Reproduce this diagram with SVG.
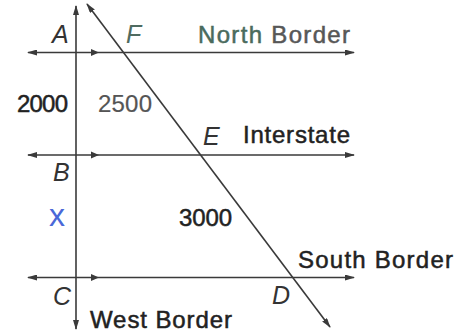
<svg xmlns="http://www.w3.org/2000/svg" width="466" height="335" viewBox="0 0 466 335">
<style>
.ln{stroke:#3a3a3a;stroke-width:1.6;fill:none;}
.ar{marker-end:url(#ah);marker-start:url(#ah);}
.pm{fill:#3a3a3a;}
.pt{font-family:"Liberation Sans",Arial,sans-serif;font-style:italic;font-size:25px;fill:#333;}
.lb{font-family:"Liberation Sans",Arial,sans-serif;font-size:24px;fill:#222;stroke:#222;stroke-width:0.5;}
</style>
<defs>
<marker id="ah" viewBox="0 0 10 6" refX="9" refY="3" markerWidth="10" markerHeight="6" markerUnits="userSpaceOnUse" orient="auto-start-reverse">
<path d="M0,0 L10,3 L0,6 z" fill="#3a3a3a"/>
</marker>
</defs>
<rect width="466" height="335" fill="#fff"/>
<g id="connectors">
<line class="ln ar" x1="28" y1="52.5" x2="354" y2="52.5"/>
<line class="ln ar" x1="28" y1="155" x2="354" y2="155"/>
<line class="ln ar" x1="28" y1="277.5" x2="354" y2="277.5"/>
<line class="ln ar" x1="76" y1="6" x2="76" y2="329"/>
<line class="ln ar" x1="87" y1="4" x2="330" y2="327"/>
<polygon class="pm" points="91,49 99,52.5 91,56"/>
<polygon class="pm" points="91,151.5 99,155 91,158.5"/>
<polygon class="pm" points="91,274 99,277.5 91,281"/>
</g>
<g id="point-A"><text class="pt" x="52" y="43">A</text></g>
<g id="point-F"><text class="pt" x="126" y="43" style="fill:#4f6b60">F</text></g>
<g id="point-E"><text class="pt" x="203" y="145">E</text></g>
<g id="point-B"><text class="pt" x="53" y="181">B</text></g>
<g id="point-C"><text class="pt" x="53" y="305">C</text></g>
<g id="point-D"><text class="pt" x="272" y="304">D</text></g>
<g id="north-border"><text class="lb" x="198" y="43" textLength="152"><tspan fill="#4a6b5d" stroke="#4a6b5d">North</tspan><tspan fill="#575757" stroke="#575757"> Border</tspan></text></g>
<g id="interstate"><text class="lb" x="243" y="143" textLength="107">Interstate</text></g>
<g id="south-border"><text class="lb" x="298" y="268" textLength="155">South Border</text></g>
<g id="west-border"><text class="lb" x="90" y="328" textLength="142">West Border</text></g>
<g id="len-2000"><text class="lb" x="17" y="112" textLength="51">2000</text></g>
<g id="len-2500"><text class="lb" x="98" y="112" textLength="54" style="fill:#555;stroke:#555;stroke-width:0.2">2500</text></g>
<g id="len-3000"><text class="lb" x="179" y="226" textLength="53">3000</text></g>
<g id="unknown-x"><text x="57" y="226" text-anchor="middle" style="font-family:'Liberation Sans',Arial,sans-serif;font-size:32px;fill:#4a68d8">x</text></g>
</svg>
